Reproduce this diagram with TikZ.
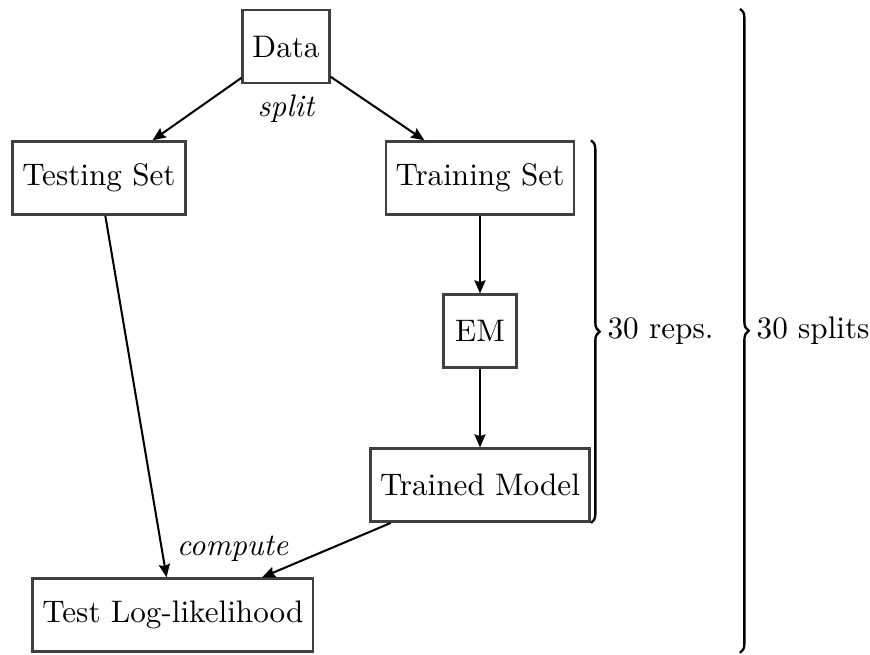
\documentclass[tikz,border=0pt]{standalone}
\usepackage{amsmath}
\usepackage{tikz}
\usetikzlibrary{arrows.meta,positioning,calc,decorations.pathreplacing}
\newcommand{\figfont}{\fontsize{10.7}{13}\selectfont}

\begin{document}
\begin{tikzpicture}[node distance=1.85cm,on grid,auto,
        >={Stealth[length=4.5pt,width=3.8pt,inset=0.6pt]},
        every node/.style={font=\figfont},
        block/.style={draw=black!75,line width=0.9pt,rectangle,
            minimum height=0.88cm,minimum width=0.88cm},
        note/.style={font=\figfont\itshape},
        brace/.style={decorate,line width=0.8pt,
            decoration={brace,amplitude=3pt}}]
        \useasboundingbox (-3.454,-7.337) rectangle (7.053,0.562);
        \node[block] (data) {Data};
        \node[block] (train) [below right=1.588cm and 2.343cm of data] {Training Set};
        \node[block] (test) [below left=1.588cm and 2.259cm of data] {Testing Set};
        \node[block] (em) [below=of train] {EM};
        \node[block] (model) [below=1.86cm of em] {Trained Model};
        \node[block] (loglik) [below right=5.278cm and 0.894cm of test] {Test Log-likelihood};
        \node[note,anchor=north] (split) at (data.south) {split};
        \node[note] (compute) at ([xshift=0.72cm,yshift=0.34cm]loglik.north) {compute};
        \path[->,line width=0.7pt]
        (data) edge (test)
        (data) edge (train)
        (train) edge (em)
        (em) edge (model)
        (test) edge (loglik)
        (model) edge (loglik);
        % braces for the repetitions
        \coordinate (reps top) at (train.north -| model.east);
        \coordinate (splits top) at ($(data.north -| model.east)+(1.80,0)$);
        \coordinate (splits bot) at ($(loglik.south -| model.east)+(1.80,0)$);
        \draw[brace] (reps top) -- (model.south east)
            node[midway,anchor=west,xshift=2pt] {30 reps.};
        \draw[brace] (splits top) -- (splits bot)
            node[midway,anchor=west,xshift=2pt] {30 splits};
    \end{tikzpicture}
\end{document}
